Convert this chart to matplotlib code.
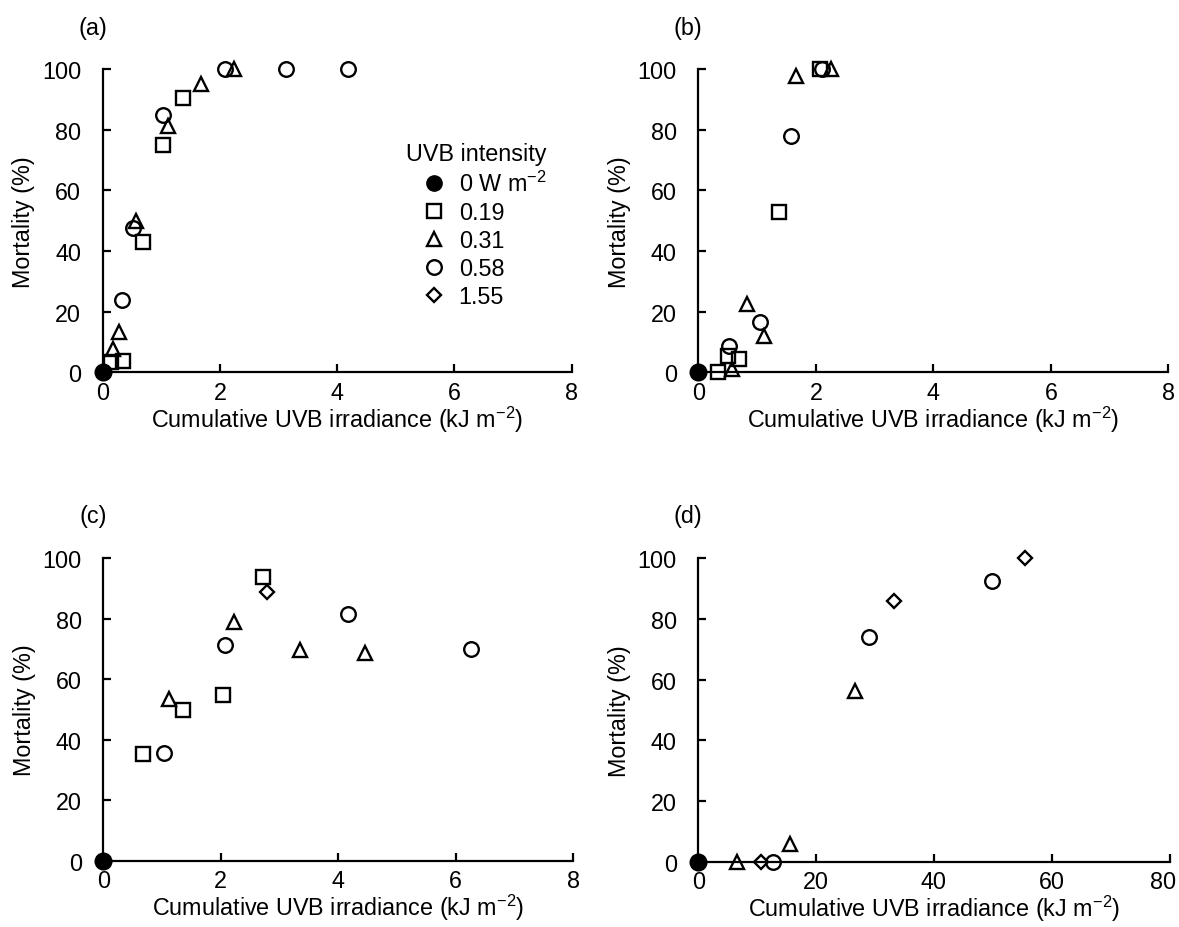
import matplotlib
matplotlib.use("Agg")
import matplotlib.pyplot as plt
from matplotlib.lines import Line2D
from matplotlib.transforms import ScaledTranslation

plt.rcParams['font.family'] = ['Liberation Sans', 'DejaVu Sans']
plt.rcParams['mathtext.fontset'] = 'custom'
plt.rcParams['mathtext.rm'] = 'Liberation Sans'
plt.rcParams['mathtext.it'] = 'Liberation Sans:italic'
plt.rcParams['mathtext.default'] = 'regular'

# ---------------- data ----------------
legend_title = "UVB intensity"
intensity_labels = ["0 W m$^{-2}$", "0.19", "0.31", "0.58", "1.55"]
panel_labels = ["(a)", "(b)", "(c)", "(d)"]

ctrl_x = [0]
ctrl_y = [0]

a_sq_x = [0.15, 0.35, 0.68, 1.03, 1.37]
a_sq_y = [3.4, 3.8, 42.9, 74.9, 90.4]
a_tri_x = [0.17, 0.28, 0.56, 1.12, 1.67, 2.24]
a_tri_y = [7.7, 13.4, 50.0, 81.1, 95.0, 100]
a_cir_x = [0.33, 0.51, 1.03, 2.08, 3.13, 4.18]
a_cir_y = [23.9, 47.5, 84.8, 100, 100, 100]
a_dia_x = []
a_dia_y = []

b_sq_x = [0.34, 0.51, 0.70, 1.37, 2.07]
b_sq_y = [0, 5.3, 4.4, 53.0, 100]
b_tri_x = [0.57, 0.83, 1.11, 1.67, 2.25]
b_tri_y = [1.0, 22.5, 12.0, 97.8, 100]
b_cir_x = [0.52, 1.05, 1.57, 2.10]
b_cir_y = [8.8, 16.5, 77.8, 100]
b_dia_x = []
b_dia_y = []

c_sq_x = [0.67, 1.36, 2.04, 2.72]
c_sq_y = [35.2, 49.9, 54.8, 93.9]
c_tri_x = [1.11, 2.22, 3.34, 4.46]
c_tri_y = [53.5, 79.0, 69.8, 68.6]
c_cir_x = [1.03, 2.07, 4.17, 6.26]
c_cir_y = [35.6, 71.4, 81.6, 70.0]
c_dia_x = [2.78]
c_dia_y = [89.0]

d_sq_x = []
d_sq_y = []
d_tri_x = [6.6, 15.5, 26.6]
d_tri_y = [0, 5.8, 56.4]
d_cir_x = [12.6, 29.0, 49.8]
d_cir_y = [0, 74.2, 92.5]
d_dia_x = [10.7, 33.2, 55.5]
d_dia_y = [0, 85.8, 100]

xlims = [8, 8, 8, 80]
xticks = [[0, 2, 4, 6, 8], [0, 2, 4, 6, 8], [0, 2, 4, 6, 8], [0, 20, 40, 60, 80]]
yticks = [0, 20, 40, 60, 80, 100]

panels = [
    (a_sq_x, a_sq_y, a_tri_x, a_tri_y, a_cir_x, a_cir_y, a_dia_x, a_dia_y),
    (b_sq_x, b_sq_y, b_tri_x, b_tri_y, b_cir_x, b_cir_y, b_dia_x, b_dia_y),
    (c_sq_x, c_sq_y, c_tri_x, c_tri_y, c_cir_x, c_cir_y, c_dia_x, c_dia_y),
    (d_sq_x, d_sq_y, d_tri_x, d_tri_y, d_cir_x, d_cir_y, d_dia_x, d_dia_y),
]

# ---------------- figure ----------------
W, H = 1179, 928
fig = plt.figure(figsize=(W / 100, H / 100), dpi=100)

# axes rectangles in pixel coords: (left, y_top(100), right, y_bottom(0))
rects = [
    (102.7, 70.0, 571.7, 373.3),
    (698.3, 70.0, 1168.5, 373.3),
    (103.3, 559.3, 573.3, 861.7),
    (698.3, 559.3, 1169.5, 862.7),
]
label_pos = [(93, 28), (688, 28), (93, 517), (688, 517)]

FS = 16.8
lw = 1.6
ec = 'black'
mk = dict(linestyle='none', fillstyle='none', color=ec, markeredgewidth=1.7)

for i, (r, data) in enumerate(zip(rects, panels)):
    l, t, rr, b = r
    ax = fig.add_axes([l / W, 1 - b / H, (rr - l) / W, (b - t) / H])
    sqx, sqy, trx, try_, cix, ciy, dix, diy = data
    ax.plot(sqx, sqy, marker='s', markersize=9.5, clip_on=False, zorder=4, **mk)
    ax.plot(trx, try_, marker='^', markersize=10.5, clip_on=False, zorder=4, **mk)
    ax.plot(cix, ciy, marker='o', markersize=10.5, clip_on=False, zorder=4, **mk)
    ax.plot(dix, diy, marker='D', markersize=7.0, clip_on=False, zorder=4, **mk)
    ax.plot(ctrl_x, ctrl_y, linestyle='none', marker='o', markersize=12,
            color='black', clip_on=False, zorder=6)

    ax.set_xlim(0, xlims[i])
    ax.set_ylim(0, 100)
    ax.set_xticks(xticks[i])
    ax.set_yticks(yticks)
    for s in ['top', 'right']:
        ax.spines[s].set_visible(False)
    for s in ['left', 'bottom']:
        ax.spines[s].set_linewidth(lw)
    ax.tick_params(axis='both', direction='in', length=6, width=lw,
                   labelsize=FS)
    ax.tick_params(axis='y', pad=15.5)
    ax.tick_params(axis='x', pad=6)
    ax.set_xlabel("Cumulative UVB irradiance (kJ m$^{-2}$)", fontsize=FS,
                  labelpad=0)
    ax.set_ylabel("Mortality (%)", fontsize=FS, labelpad=5)
    fig.text(label_pos[i][0] / W, 1 - label_pos[i][1] / H, panel_labels[i],
             fontsize=FS, ha='center', va='center')

    if i == 3:
        lab = ax.get_xticklabels()[-1]
        lab.set_transform(lab.get_transform() +
                          ScaledTranslation(-6 / 100, 0, fig.dpi_scale_trans))

    if i == 0:
        handles = [
            Line2D([], [], linestyle='none', marker='o', markersize=11,
                   color='black'),
            Line2D([], [], marker='s', markersize=9.5, **mk),
            Line2D([], [], marker='^', markersize=10.5, **mk),
            Line2D([], [], marker='o', markersize=10.5, **mk),
            Line2D([], [], marker='D', markersize=7.0, **mk),
        ]
        leg = ax.legend(handles, intensity_labels,
                        fontsize=FS, frameon=False,
                        loc='upper left',
                        bbox_to_anchor=(422.5 / W, 1 - 172 / H),
                        bbox_transform=fig.transFigure,
                        handlelength=1.0, handletextpad=0.55,
                        labelspacing=0.21, borderpad=0.0, borderaxespad=0.0)
        fig.text(406 / W, 1 - 155 / H, legend_title, fontsize=FS,
                 ha='left', va='center')

fig.savefig("out.png", dpi=100)
